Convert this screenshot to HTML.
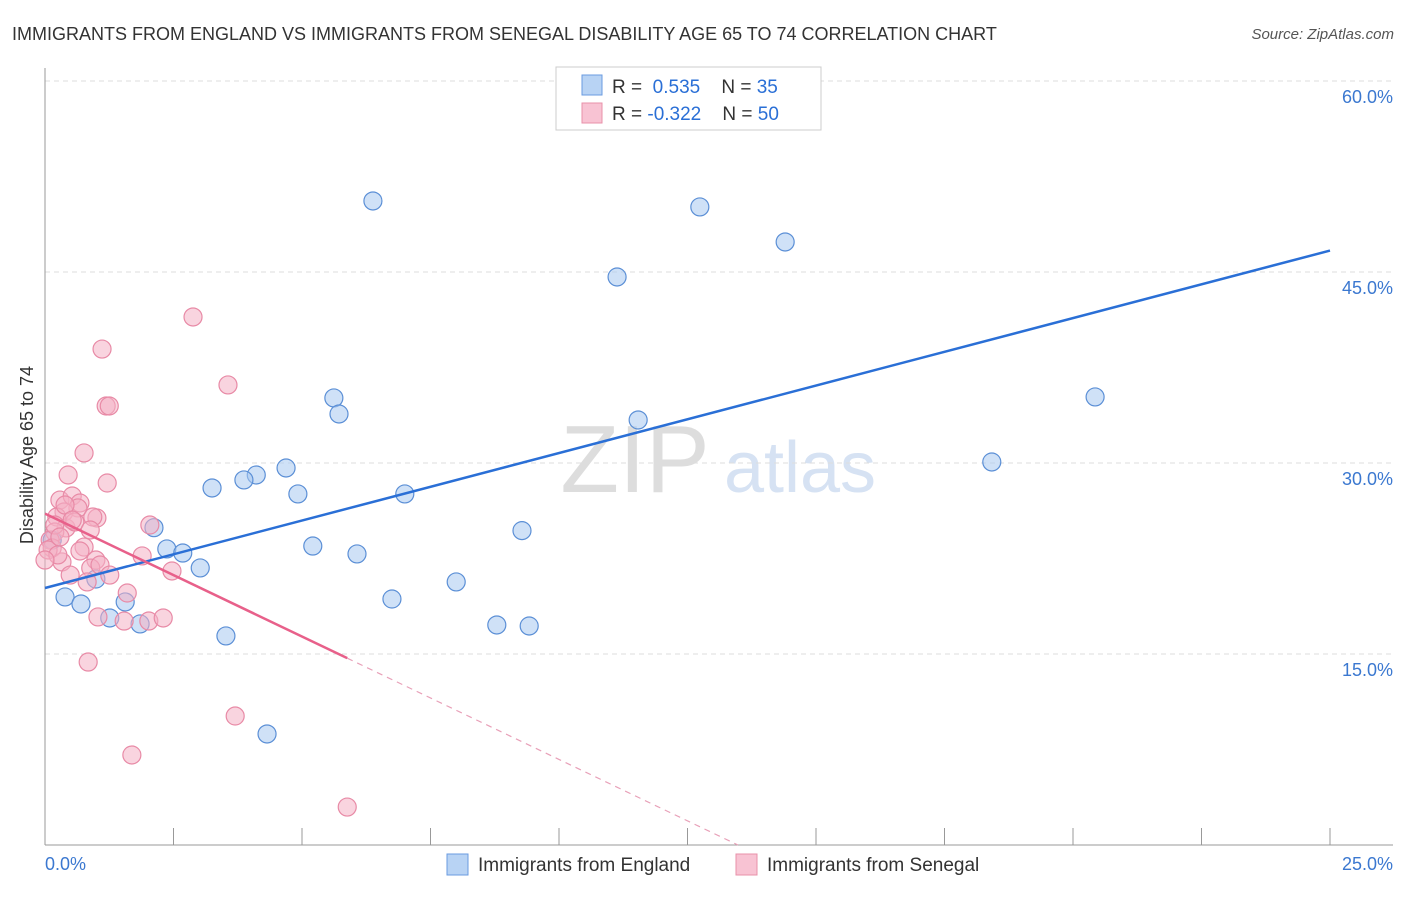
<!DOCTYPE html>
<html><head><meta charset="utf-8"><style>
body{margin:0;background:#fff;font-family:"Liberation Sans",sans-serif;}
svg text{font-family:"Liberation Sans",sans-serif;}
</style></head><body>
<svg id="c" width="1406" height="892" xmlns="http://www.w3.org/2000/svg">
<text x="12" y="40" font-size="18" fill="#333">IMMIGRANTS FROM ENGLAND VS IMMIGRANTS FROM SENEGAL DISABILITY AGE 65 TO 74 CORRELATION CHART</text>
<text x="1394" y="39" font-size="15" fill="#555" text-anchor="end" font-style="italic">Source: ZipAtlas.com</text>
<text x="635" y="492" font-size="96" fill="#ddd" font-family="Liberation Serif" text-anchor="middle">ZIP</text>
<text x="800" y="492" font-size="72" fill="#d6e2f3" text-anchor="middle">atlas</text>
<g id="grid"></g><g id="pts"></g><g id="lines"></g>
<text transform="translate(33,455) rotate(-90)" font-size="18" fill="#333" text-anchor="middle">Disability Age 65 to 74</text>
<g>
<rect x="556" y="67" width="265" height="63" fill="#fff" stroke="#ccc"/>
<rect x="582" y="75" width="20" height="20" fill="#b8d3f4" stroke="#6a9be0"/>
<rect x="582" y="103" width="20" height="20" fill="#f8c3d3" stroke="#e890aa"/>
<text x="612" y="93" font-size="19" fill="#333">R = <tspan fill="#2a6fd6">&#160;0.535</tspan>&#160;&#160;&#160;&#160;N = <tspan fill="#2a6fd6">35</tspan></text>
<text x="612" y="120" font-size="19" fill="#333">R = <tspan fill="#2a6fd6">-0.322</tspan>&#160;&#160;&#160;&#160;N = <tspan fill="#2a6fd6">50</tspan></text>
</g>
<g>
<rect x="447" y="854" width="21" height="21" fill="#b8d3f4" stroke="#6a9be0"/>
<text x="478" y="871" font-size="19" fill="#333">Immigrants from England</text>
<rect x="736" y="854" width="21" height="21" fill="#f8c3d3" stroke="#e890aa"/>
<text x="767" y="871" font-size="19" fill="#333">Immigrants from Senegal</text>
</g>
<text x="45" y="870" font-size="18" fill="#3b78d0">0.0%</text>
<text x="1393" y="870" font-size="18" fill="#3b78d0" text-anchor="end">25.0%</text>
</svg>
<script>
const yTicks=[15,30,45,60];
const yTickLabels=["15.0%","30.0%","45.0%","60.0%"];
const xTicks=[0,2.5,5,7.5,10,12.5,15,17.5,20,22.5,25];
const englandX=[6.38,12.74,14.40,11.13,20.43,5.62,5.72,11.54,18.42,4.69,4.11,3.87,3.25,4.92,7.00,2.12,9.28,5.21,2.37,2.68,6.07,3.02,0.99,8.00,0.39,6.75,0.70,1.56,1.26,1.85,8.79,9.42,3.52,4.32,0.14];
const englandY=[50.58,50.11,47.36,44.61,35.19,35.11,33.85,33.38,30.08,29.61,29.06,28.67,28.04,27.57,27.57,24.92,24.69,23.48,23.25,22.93,22.86,21.76,20.89,20.66,19.48,19.32,18.93,19.09,17.83,17.36,17.28,17.20,16.42,8.72,23.95];
const senegalX=[2.88,1.11,3.56,1.19,1.25,0.76,0.45,1.21,0.29,0.53,0.68,0.64,0.37,0.23,1.01,0.93,2.04,0.41,0.19,0.10,0.14,0.76,0.68,1.89,0.99,0.33,0.89,2.47,0.49,0.82,1.60,1.03,1.54,2.02,2.30,0.84,3.70,1.69,5.88,0.19,0.06,0.29,0.58,0.39,1.07,0.25,0.53,0.88,0.0,1.26];
const senegalY=[41.47,38.95,36.13,34.48,34.48,30.79,29.06,28.43,27.09,27.41,26.86,26.47,26.15,25.76,25.68,25.76,25.13,24.90,24.58,23.95,23.33,23.40,23.09,22.70,22.38,22.23,21.75,21.52,21.20,20.66,19.79,17.91,17.59,17.59,17.83,14.37,10.13,7.07,2.98,25.13,23.17,24.19,25.37,26.70,21.99,22.78,25.52,24.74,22.38,21.20];
const NS="http://www.w3.org/2000/svg";
const X=v=>45+v*51.4, Y=v=>845-v*12.733;
function mk(t,a,p){const e=document.createElementNS(NS,t);for(const k in a)e.setAttribute(k,a[k]);p.appendChild(e);return e;}
const g=document.getElementById('grid');
yTicks.forEach((t,i)=>{
 const l=mk('line',{x1:45,x2:1393,y1:Y(t),y2:Y(t),stroke:'#ddd','stroke-dasharray':'5,4'},g);
 
 
 const tx=mk('text',{x:1393,y:Y(t)+22,'font-size':18,fill:'#3b78d0','text-anchor':'end'},g);
 tx.textContent=yTickLabels[i];
 
 
});
let ax=mk('line',{x1:45,x2:45,y1:68,y2:845,stroke:'#999'},g);


ax=mk('line',{x1:45,x2:1393,y1:845,y2:845,stroke:'#999'},g);


xTicks.forEach(t=>{const l=mk('line',{x1:X(t),x2:X(t),y1:828,y2:845,stroke:'#999'},g);
 
 });
const p=document.getElementById('pts');
function dots(xs,ys,fill,stroke,name){xs.forEach((x,i)=>{
 const c=mk('circle',{cx:X(x),cy:Y(ys[i]),r:9,fill:fill,'fill-opacity':0.55,stroke:stroke,'stroke-width':1.2},p);
 
 });}
dots(englandX,englandY,'#a8c8f0','#5b8fd6','england-point');
dots(senegalX,senegalY,'#f4b0c4','#e88aa6','senegal-point');
function reg(xs,ys){const n=xs.length;let mx=0,my=0;xs.forEach((x,i)=>{mx+=x;my+=ys[i];});mx/=n;my/=n;let sxy=0,sxx=0;xs.forEach((x,i)=>{sxy+=(x-mx)*(ys[i]-my);sxx+=(x-mx)**2;});const b=sxy/sxx;return [my-b*mx,b];}
const L=document.getElementById('lines');
const [ea,eb]=reg(englandX,englandY);
let ln=mk('line',{x1:X(0),y1:Y(ea),x2:X(25),y2:Y(ea+eb*25),stroke:'#2a6fd6','stroke-width':2.5},L);


const [sa,sb]=reg(senegalX,senegalY);
const sMax=Math.max(...senegalX);
ln=mk('line',{x1:X(0),y1:Y(sa),x2:X(sMax),y2:Y(sa+sb*sMax),stroke:'#e8608a','stroke-width':2.5},L);


const xz=sb<0?Math.min(-sa/sb,26):26;
ln=mk('line',{x1:X(sMax),y1:Y(sa+sb*sMax),x2:X(xz),y2:Y(sa+sb*xz),stroke:'#e8a0b8','stroke-width':1.2,'stroke-dasharray':'6,5'},L);


</script>
</body></html>
